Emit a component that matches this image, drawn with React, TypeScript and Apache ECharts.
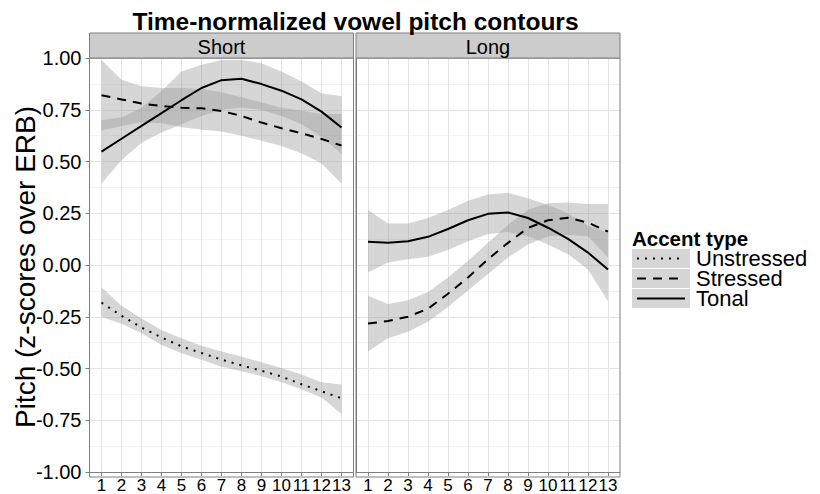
import React, { useEffect, useRef } from 'react';
import * as echarts from 'echarts';

// ---------- data ----------
const steps = [1, 2, 3, 4, 5, 6, 7, 8, 9, 10, 11, 12, 13];
const panels = ['Short', 'Long'];
const accentTypes = ['Unstressed', 'Stressed', 'Tonal'];
const chartTitle = 'Time-normalized vowel pitch contours';
const yTitle = 'Pitch (z-scores over ERB)';
const legendTitle = 'Accent type';

// Short vowels
const shortUnstressed = [-0.182, -0.245, -0.302, -0.35, -0.393, -0.425, -0.457, -0.485, -0.511, -0.539, -0.576, -0.61, -0.644];
const shortUnstressedHi = [-0.107, -0.197, -0.259, -0.314, -0.354, -0.39, -0.418, -0.442, -0.47, -0.497, -0.529, -0.566, -0.577];
const shortUnstressedLo = [-0.251, -0.284, -0.33, -0.386, -0.426, -0.458, -0.492, -0.513, -0.537, -0.566, -0.6, -0.64, -0.72];

const shortStressed = [0.82, 0.8, 0.78, 0.768, 0.76, 0.757, 0.744, 0.72, 0.688, 0.661, 0.636, 0.609, 0.577];
const shortStressedHi = [0.99, 0.895, 0.863, 0.855, 0.855, 0.85, 0.835, 0.81, 0.785, 0.76, 0.745, 0.73, 0.73];
const shortStressedLo = [0.65, 0.672, 0.69, 0.685, 0.665, 0.655, 0.645, 0.625, 0.6, 0.575, 0.54, 0.49, 0.394];

const shortTonal = [0.548, 0.61, 0.672, 0.734, 0.796, 0.855, 0.893, 0.9, 0.874, 0.842, 0.8, 0.741, 0.664];
const shortTonalHi = [0.7, 0.712, 0.76, 0.84, 0.935, 0.967, 0.99, 0.99, 0.975, 0.935, 0.887, 0.83, 0.815];
const shortTonalLo = [0.394, 0.506, 0.59, 0.64, 0.68, 0.72, 0.75, 0.76, 0.75, 0.72, 0.68, 0.62, 0.537];

// Long vowels
const longStressed = [-0.283, -0.271, -0.25, -0.211, -0.139, -0.06, 0.028, 0.107, 0.179, 0.216, 0.228, 0.205, 0.161];
const longStressedHi = [-0.149, -0.189, -0.17, -0.131, -0.06, 0.02, 0.107, 0.195, 0.267, 0.298, 0.302, 0.295, 0.295];
const longStressedLo = [-0.418, -0.354, -0.322, -0.274, -0.203, -0.123, -0.044, 0.036, 0.099, 0.139, 0.145, 0.139, 0.036];

const longTonal = [0.112, 0.107, 0.115, 0.136, 0.174, 0.216, 0.247, 0.254, 0.227, 0.18, 0.126, 0.06, -0.022];
const longTonalHi = [0.266, 0.2, 0.2, 0.227, 0.266, 0.31, 0.341, 0.349, 0.322, 0.29, 0.25, 0.19, 0.155];
const longTonalLo = [-0.036, 0.012, 0.028, 0.04, 0.072, 0.115, 0.15, 0.16, 0.139, 0.099, 0.052, -0.022, -0.175];

// ---------- styles ----------
const FONT = "'Liberation Sans', Arial, Helvetica, sans-serif";
const GRID_TOP = 58;
const GRID_H = 419;
const GRID_W = 264;
const GRID_LEFTS = [89.5, 356];
const STRIP_Y = 33;
const STRIP_H = 25;
const RIBBON_FILL = 'rgba(153,153,153,0.4)';
const BORDER = '#7f7f7f';
const LINE_TYPES: any = {
  Unstressed: [2, 6],
  Stressed: [9, 7],
  Tonal: 'solid',
};

function ribbon(g: number, lo: number[], hi: number[]) {
  return {
    type: 'custom',
    xAxisIndex: g,
    yAxisIndex: g,
    z: 2,
    silent: true,
    data: [[steps[0], lo[0]]],
    renderItem: (_params: any, api: any) => {
      const pts: number[][] = [];
      steps.forEach((s, i) => pts.push(api.coord([s, hi[i]])));
      for (let i = steps.length - 1; i >= 0; i--) pts.push(api.coord([steps[i], lo[i]]));
      return { type: 'polygon', shape: { points: pts }, style: { fill: RIBBON_FILL } };
    },
  };
}

function line(g: number, name: string, vals: number[]) {
  return {
    type: 'line',
    name,
    xAxisIndex: g,
    yAxisIndex: g,
    z: 3,
    silent: true,
    symbol: 'none',
    showSymbol: false,
    data: steps.map((s, i) => [s, vals[i]]),
    lineStyle: { color: '#000', width: 2, type: LINE_TYPES[name], cap: 'butt' },
  };
}

export default function App() {
  const ref = useRef<HTMLDivElement>(null);

  useEffect(() => {
    if (!ref.current) return;
    const chart = echarts.init(ref.current, undefined, { renderer: 'svg' });

    const grids = GRID_LEFTS.map((left) => ({ left, top: GRID_TOP, width: GRID_W, height: GRID_H, show: false }));

    const xAxes = GRID_LEFTS.map((_l, g) => ({
      type: 'value',
      gridIndex: g,
      min: 0.4,
      max: 13.6,
      splitNumber: 13,
      axisLine: { show: true, onZero: false, lineStyle: { color: BORDER, width: 1 } },
      axisTick: { show: true, length: 4, lineStyle: { color: BORDER }, customValues: steps },
      axisLabel: {
        show: true,
        customValues: steps,
        fontSize: 17,
        fontFamily: FONT,
        color: '#000',
        margin: 5,
        formatter: (v: number) => (Number.isInteger(v) ? String(v) : ''),
      },
      splitLine: { show: true, lineStyle: { color: '#e3e3e3', width: 1 } },
    }));

    const yAxes = GRID_LEFTS.map((_l, g) => ({
      type: 'value',
      gridIndex: g,
      min: -1,
      max: 1,
      interval: 0.25,
      axisLine: { show: true, onZero: false, lineStyle: { color: BORDER, width: 1 } },
      axisTick: { show: g === 0, length: 4, lineStyle: { color: BORDER } },
      axisLabel: {
        show: g === 0,
        fontSize: 20,
        fontFamily: FONT,
        color: '#000',
        margin: 8,
        formatter: (v: number) => v.toFixed(2),
      },
      splitLine: { show: true, lineStyle: { color: '#e3e3e3', width: 1 } },
      minorTick: { show: false, splitNumber: 2 },
      minorSplitLine: { show: true, lineStyle: { color: '#f3f3f3', width: 1 } },
    }));

    const series: any[] = [
      ribbon(0, shortUnstressedLo, shortUnstressedHi),
      ribbon(0, shortStressedLo, shortStressedHi),
      ribbon(0, shortTonalLo, shortTonalHi),
      ribbon(1, longStressedLo, longStressedHi),
      ribbon(1, longTonalLo, longTonalHi),
      line(0, 'Unstressed', shortUnstressed),
      line(0, 'Stressed', shortStressed),
      line(0, 'Tonal', shortTonal),
      line(1, 'Stressed', longStressed),
      line(1, 'Tonal', longTonal),
    ];

    const graphics: any[] = [];
    GRID_LEFTS.forEach((left, i) => {
      graphics.push({
        type: 'rect',
        z: 100,
        silent: true,
        shape: { x: left, y: GRID_TOP, width: GRID_W, height: GRID_H },
        style: { fill: 'none', stroke: BORDER, lineWidth: 1 },
      });
      graphics.push({
        type: 'rect',
        z: 100,
        silent: true,
        shape: { x: left, y: STRIP_Y, width: GRID_W, height: STRIP_H },
        style: { fill: '#cccccc', stroke: BORDER, lineWidth: 1 },
      });
      graphics.push({
        type: 'text',
        z: 101,
        silent: true,
        x: left + GRID_W / 2,
        y: STRIP_Y + STRIP_H / 2 + 1,
        style: {
          text: panels[i],
          fontSize: 20,
          fontFamily: FONT,
          fill: '#000',
          align: 'center',
          verticalAlign: 'middle',
        },
      });
    });
    graphics.push({
      type: 'text',
      z: 101,
      silent: true,
      x: 355.5,
      y: 21,
      style: {
        text: chartTitle,
        fontSize: 24.5,
        fontWeight: 'bold',
        fontFamily: FONT,
        fill: '#000',
        align: 'center',
        verticalAlign: 'middle',
      },
    });
    graphics.push({
      type: 'text',
      z: 101,
      silent: true,
      x: 25,
      y: 267,
      rotation: Math.PI / 2,
      style: {
        text: yTitle,
        fontSize: 28,
        fontFamily: FONT,
        fill: '#000',
        align: 'center',
        verticalAlign: 'middle',
      },
    });
    const LX = 632;
    graphics.push({
      type: 'text',
      z: 101,
      silent: true,
      x: LX,
      y: 238,
      style: {
        text: legendTitle,
        fontSize: 20.5,
        fontWeight: 'bold',
        fontFamily: FONT,
        fill: '#000',
        align: 'left',
        verticalAlign: 'middle',
      },
    });
    accentTypes.forEach((name, i) => {
      const ky = 249 + i * 20;
      graphics.push({
        type: 'rect',
        z: 100,
        silent: true,
        shape: { x: LX, y: ky, width: 58, height: 19 },
        style: { fill: '#d6d6d6', stroke: 'none' },
      });
      const t = LINE_TYPES[name];
      graphics.push({
        type: 'line',
        z: 101,
        silent: true,
        shape: { x1: LX + 5, y1: ky + 9.5, x2: LX + 53, y2: ky + 9.5 },
        style: {
          stroke: '#000',
          lineWidth: 2,
          lineDash: Array.isArray(t) ? t : null,
        },
      });
      graphics.push({
        type: 'text',
        z: 101,
        silent: true,
        x: LX + 64,
        y: ky + 9.5,
        style: {
          text: name,
          fontSize: 22,
          fontFamily: FONT,
          fill: '#000',
          align: 'left',
          verticalAlign: 'middle',
        },
      });
    });

    chart.setOption({
      animation: false,
      backgroundColor: '#ffffff',
      textStyle: { fontFamily: FONT },
      grid: grids,
      xAxis: xAxes,
      yAxis: yAxes,
      series,
      graphic: graphics,
    });

    return () => chart.dispose();
  }, []);

  return (
    <div
      ref={ref}
      style={{ position: 'fixed', left: 0, top: 0, width: 820, height: 494, background: '#fff' }}
    />
  );
}
